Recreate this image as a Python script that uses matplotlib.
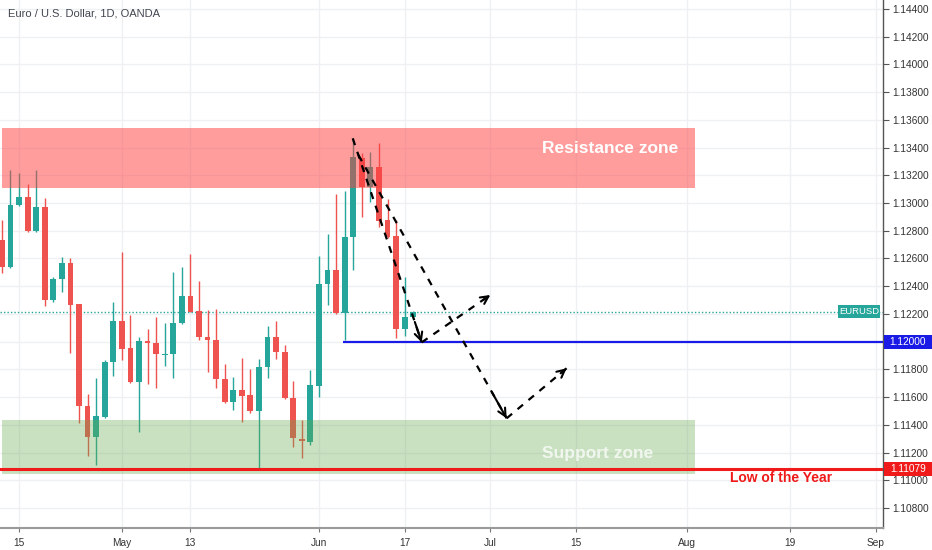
import matplotlib
matplotlib.use("Agg")
import matplotlib.pyplot as plt
import matplotlib.transforms as mtransforms
from matplotlib.patches import Rectangle
import numpy as np
import pandas as pd

plt.rcParams['font.family'] = ['Liberation Sans', 'DejaVu Sans']

# ---------------- data ----------------
start_date = "2019-04-11"
opens = [1.12733, 1.12537, 1.12986, 1.13046, 1.12801, 1.12974, 1.12301, 1.12450, 1.12565, 1.12270,
         1.11536, 1.11314, 1.11459, 1.11851, 1.12149, 1.11952, 1.11711, 1.12007, 1.11988, 1.11905,
         1.11909, 1.12137, 1.12329, 1.12221, 1.12036, 1.12012, 1.11728, 1.11567, 1.11651, 1.11613,
         1.11502, 1.11815, 1.12036, 1.11928, 1.11596, 1.11298, 1.11278, 1.11680, 1.12414, 1.12517,
         1.12205, 1.12753, 1.13323, 1.13114, 1.13262, 1.12878, 1.12762, 1.12089, 1.12176]
highs = [1.12878, 1.13238, 1.13215, 1.13137, 1.13238, 1.13034, 1.12469, 1.12613, 1.12606, 1.12272,
         1.11620, 1.11736, 1.11868, 1.12288, 1.12645, 1.12192, 1.12034, 1.12089, 1.12176, 1.12133,
         1.12505, 1.12537, 1.12632, 1.12438, 1.12228, 1.12233, 1.11837, 1.11747, 1.11880, 1.11801,
         1.11873, 1.12113, 1.12149, 1.11976, 1.11718, 1.11435, 1.11796, 1.12618, 1.12775, 1.13065,
         1.13089, 1.13467, 1.13359, 1.13371, 1.13435, 1.13029, 1.12878, 1.12469, 1.12221]
lows = [1.12498, 1.12531, 1.12979, 1.12793, 1.12793, 1.12259, 1.12288, 1.12356, 1.11920, 1.11411,
        1.11177, 1.11110, 1.11451, 1.11754, 1.11868, 1.11704, 1.11350, 1.11695, 1.11668, 1.11824,
        1.11736, 1.12131, 1.12216, 1.12012, 1.11779, 1.11664, 1.11555, 1.11507, 1.11418, 1.11483,
        1.11079, 1.11736, 1.11873, 1.11584, 1.11242, 1.11159, 1.11254, 1.11603, 1.12265, 1.12197,
        1.12012, 1.12517, 1.12897, 1.13010, 1.12829, 1.12751, 1.12024, 1.12041, 1.12171]
closes = [1.12541, 1.12986, 1.13046, 1.12801, 1.12974, 1.12301, 1.12450, 1.12565, 1.12265, 1.11536,
          1.11314, 1.11464, 1.11851, 1.12149, 1.11947, 1.11711, 1.12007, 1.11988, 1.11909, 1.11909,
          1.12137, 1.12329, 1.12216, 1.12031, 1.12012, 1.11728, 1.11567, 1.11651, 1.11610, 1.11498,
          1.11815, 1.12036, 1.11928, 1.11591, 1.11303, 1.11286, 1.11685, 1.12416, 1.12517, 1.12205,
          1.12757, 1.13334, 1.13114, 1.13258, 1.12873, 1.12757, 1.12089, 1.12178, 1.12216]

date_ticks = ["2019-04-15", "2019-05-01", "2019-05-13", "2019-06-03", "2019-06-17",
              "2019-07-01", "2019-07-15", "2019-08-01", "2019-08-19", "2019-09-02"]
date_tick_labels = ["15", "May", "13", "Jun", "17", "Jul", "15", "Aug", "19", "Sep"]
price_ticks = [1.108, 1.110, 1.112, 1.114, 1.116, 1.118, 1.120, 1.122, 1.124, 1.126,
               1.128, 1.130, 1.132, 1.134, 1.136, 1.138, 1.140, 1.142, 1.144]

last_price = 1.12216
level_1120 = 1.12000
low_of_year = 1.11079
resistance = (1.13106, 1.13539)
support = (1.11045, 1.11435)
zone_bars = (0.02, 80.9)          # bar-position span of the zones
level_1120_start = 39.8           # bar position where the 1.12 line starts
# projection arrows: (bar position, price) pairs
arrows = [((40.94, 1.13467), (48.99, 1.11995)),
          ((41.6, 1.13347), (58.9, 1.11447)),
          ((48.99, 1.11995), (57.0, 1.12337)),
          ((58.9, 1.11447), (65.9, 1.11808))]

# ---------------- figure ----------------
W, H = 932, 550
fig = plt.figure(figsize=(W / 100, H / 100), dpi=100)
fig.patch.set_facecolor('white')
ax = fig.add_axes([0, 22 / H, 883 / W, 528 / H])

cal = pd.bdate_range(start_date, "2019-09-30")
pos_of = {d.strftime("%Y-%m-%d"): i for i, d in enumerate(cal)}
xs = np.arange(len(opens))
o = np.array(opens); h = np.array(highs); l = np.array(lows); c = np.array(closes)
up = c >= o
UP, DN = '#26a69a', '#ef5350'
cols = np.where(up, UP, DN)

ax.vlines(xs, l, h, colors=cols, lw=1.0, zorder=2)
body_h = np.maximum(np.abs(c - o), 0.00008)
ax.bar(xs, body_h, bottom=np.minimum(o, c), width=0.68, color=cols, zorder=2.5, linewidth=0)

x0, x1 = -0.22, 102.82
ax.set_xlim(x0, x1)
ax.set_ylim(1.106557, 1.144649)

# zones
ax.add_patch(Rectangle((zone_bars[0], resistance[0]), zone_bars[1] - zone_bars[0],
                       resistance[1] - resistance[0], facecolor=(1.0, 0.24, 0.24), alpha=0.5,
                       edgecolor='none', zorder=3))
ax.add_patch(Rectangle((zone_bars[0], support[0]), zone_bars[1] - zone_bars[0],
                       support[1] - support[0], facecolor=(0.40, 0.67, 0.31), alpha=0.35,
                       edgecolor='none', zorder=3))
ax.text(71.0, 1.13397, "Resistance zone", color='white',
        fontsize=12.5, fontweight='bold', ha='center', va='center', zorder=6)
ax.text(69.5, 1.11190, "Support zone", color=(1, 1, 1, 0.75),
        fontsize=12.5, fontweight='bold', ha='center', va='center', zorder=6)

# lines
ax.axhline(last_price, color=UP, lw=1.0, ls=(0, (1, 1.5)), zorder=1.8)
ax.hlines(level_1120, level_1120_start, x1, color='#1a1ae6', lw=1.6, zorder=4)
ax.axhline(low_of_year, color='#f01a1a', lw=2.2, zorder=4)
ax.text(90.9, low_of_year - 0.00063, "Low of the Year", color='#f01a1a', fontsize=10,
        fontweight='bold', ha='center', va='center', zorder=6)

# dashed projection arrows
for (p0, p1) in arrows:
    ax.plot([p0[0], p1[0]], [p0[1], p1[1]], color='black', lw=1.6, ls=(0, (3.2, 3.2)), zorder=5)
    fx = p0[0] + 0.9 * (p1[0] - p0[0]); fy = p0[1] + 0.9 * (p1[1] - p0[1])
    ax.annotate("", xy=p1, xytext=(fx, fy),
                arrowprops=dict(arrowstyle='->', color='black', lw=1.5, mutation_scale=14,
                                shrinkA=0, shrinkB=0), zorder=5)

# grid
for p in price_ticks:
    ax.axhline(p, color='#eef0f4', lw=1.0, zorder=0)
tick_pos = [pos_of[d] for d in date_ticks]
for t in tick_pos:
    ax.axvline(t, color='#eef0f4', lw=1.0, zorder=0)

# axes styling
for s in ['top', 'left']:
    ax.spines[s].set_visible(False)
ax.spines['right'].set_color('#555555')
ax.spines['right'].set_linewidth(1.0)
ax.spines['bottom'].set_color('#9a9a9a')
ax.spines['bottom'].set_linewidth(1.5)
ax.yaxis.tick_right()
ax.set_yticks(price_ticks)
# the 1.12000 tick is shown by its highlighted price tag below
ax.set_yticklabels(["" if abs(p - level_1120) < 1e-9 else f"{p:.5f}" for p in price_ticks])
ax.tick_params(axis='y', length=4, width=0.8, color='#555555', labelsize=7.3,
               labelcolor='#333333', pad=3)
ax.set_xticks(tick_pos)
ax.set_xticklabels(date_tick_labels)
ax.tick_params(axis='x', length=3, width=0.8, color='#777777', labelsize=7.3,
               labelcolor='#333333', pad=4)

# price labels on the axis
bt = mtransforms.blended_transform_factory(fig.transFigure, ax.transData)
box_h = 0.00101
for val, col in [(level_1120, '#1a1ae6'), (low_of_year, '#f01a1a')]:
    ax.add_patch(Rectangle((884 / W, val - box_h / 2), 48 / W, box_h, transform=bt,
                           facecolor=col, edgecolor='none', clip_on=False, zorder=10))
    ax.text(908 / W, val, f"{val:.5f}", transform=bt, color='white', fontsize=7.3,
            ha='center', va='center', clip_on=False, zorder=11)
# EURUSD tag
ax.add_patch(Rectangle((838 / W, last_price - 0.00045), 42 / W, 0.0009, transform=bt,
                       facecolor=UP, edgecolor='none', clip_on=False, zorder=10))
ax.text(859 / W, last_price, "EURUSD", transform=bt, color='white', fontsize=6.8,
        ha='center', va='center', clip_on=False, zorder=11)

fig.text(8 / W, 1 - 13 / H, "Euro / U.S. Dollar, 1D, OANDA", color='#434651',
         fontsize=8, ha='left', va='center')

fig.savefig("out.png", dpi=100)
